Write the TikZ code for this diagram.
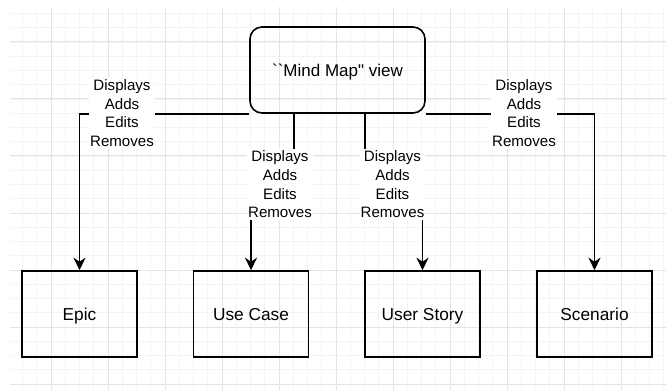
\documentclass[tikz,border=0pt]{standalone}
\usepackage{fontspec}
\newfontfamily\af{Liberation Sans}
\usetikzlibrary{arrows.meta}
\definecolor{gridmajor}{RGB}{228,228,228}
\definecolor{gridminor}{RGB}{244,244,244}
\begin{document}
\begin{tikzpicture}[x=1pt,y=-1pt,
  box/.style={draw=black, line width=1.6pt, minimum width=115pt, minimum height=86pt,
    inner sep=0pt, font=\af\fontsize{17.3}{20.8}\selectfont, text height=12.4pt, text depth=0pt},
  mainbox/.style={box, rounded corners=12pt, minimum width=175pt,
    font=\af\fontsize{17}{20.4}\selectfont, text height=12.2pt},
  edge/.style={draw=black, line width=1.7pt, -{Stealth[length=12.5pt,width=12pt,inset=4pt]}},
  lab/.style={fill=white, inner xsep=1pt, inner ysep=2pt, align=center,
    font=\af\fontsize{15.1}{18.7}\selectfont}]
\useasboundingbox (0,0) rectangle (666,390);
\fill[white] (0,0) rectangle (666,390);
\begin{scope}
  \clip (10,8) rectangle (666,390);
  \foreach \i in {-3,...,46}
    \draw[gridminor, line width=0.8pt] ({51+14.25*\i},0) -- ({51+14.25*\i},400);
  \foreach \j in {-3,...,27}
    \draw[gridminor, line width=0.8pt] (0,{42+14.25*\j}) -- (680,{42+14.25*\j});
  \foreach \i in {-1,...,11}
    \draw[gridmajor, line width=1pt] ({51+57*\i},0) -- ({51+57*\i},400);
  \foreach \j in {-1,...,6}
    \draw[gridmajor, line width=1pt] (0,{42+57*\j}) -- (680,{42+57*\j});
\end{scope}

\node[mainbox] (mind) at (337.5,70) {``Mind Map" view};
\node[box] (epic) at (79.5,314) {Epic};
\node[box] (usecase) at (251,314) {Use Case};
\node[box] (userstory) at (422.5,314) {User Story};
\node[box] (scenario) at (594.5,314) {Scenario};

\draw[edge] (mind.south west) -| (epic.north);
\draw[edge] ([xshift=-43.5pt]mind.south) -- ++(0,77) -| (usecase.north);
\draw[edge] ([xshift=27.5pt]mind.south) -- ++(0,77) -| (userstory.north);
\draw[edge] (mind.south east) -| (scenario.north);

\node[lab] (l1) at (122,113) {Displays\\Adds\\Edits\\Removes};
\node[lab] (l2) at (280,184.5) {Displays\\Adds\\Edits\\Removes};
\node[lab] (l3) at (392.5,184.5) {Displays\\Adds\\Edits\\Removes};
\node[lab] (l4) at (524,113) {Displays\\Adds\\Edits\\Removes};
\end{tikzpicture}
\end{document}
